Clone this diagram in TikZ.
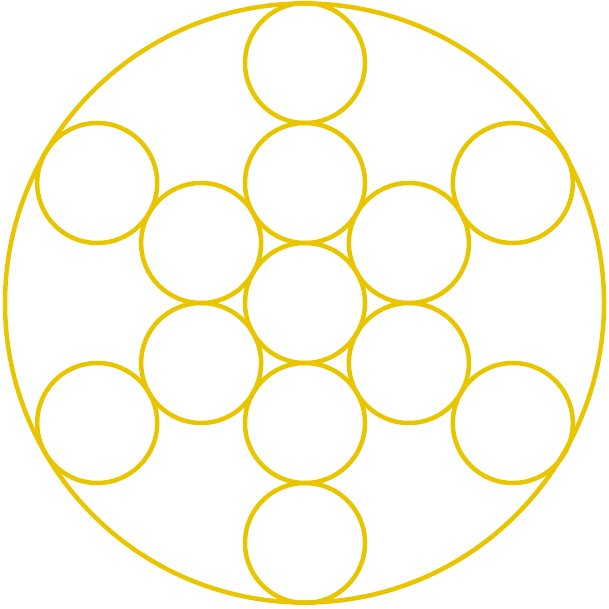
\documentclass[tikz,border=0pt]{standalone}
\definecolor{gold}{RGB}{233,197,0}
\begin{document}
\begin{tikzpicture}[x=1pt,y=-1pt,
  ring/.style={circle,draw=gold,line width=4.5pt,inner sep=0pt,minimum size=120pt},
  outer/.style={circle,draw=gold,line width=4.5pt,inner sep=0pt,minimum size=599pt}]
\useasboundingbox (0,0) rectangle (609,609);
\node[outer] (big) at (304.5,303) {};
\node[ring] (c1) at (305,63) {};
\node[ring] (c2) at (305,183) {};
\node[ring] (c3) at (305,303) {};
\node[ring] (c4) at (305,423) {};
\node[ring] (c5) at (305,543) {};
\node[ring] (l1) at (201.1,243) {};
\node[ring] (l2) at (201.1,363) {};
\node[ring] (r1) at (408.9,243) {};
\node[ring] (r2) at (408.9,363) {};
\node[ring] (ol1) at (97.2,183) {};
\node[ring] (ol2) at (97.2,423) {};
\node[ring] (or1) at (512.8,183) {};
\node[ring] (or2) at (512.8,423) {};
\end{tikzpicture}
\end{document}
